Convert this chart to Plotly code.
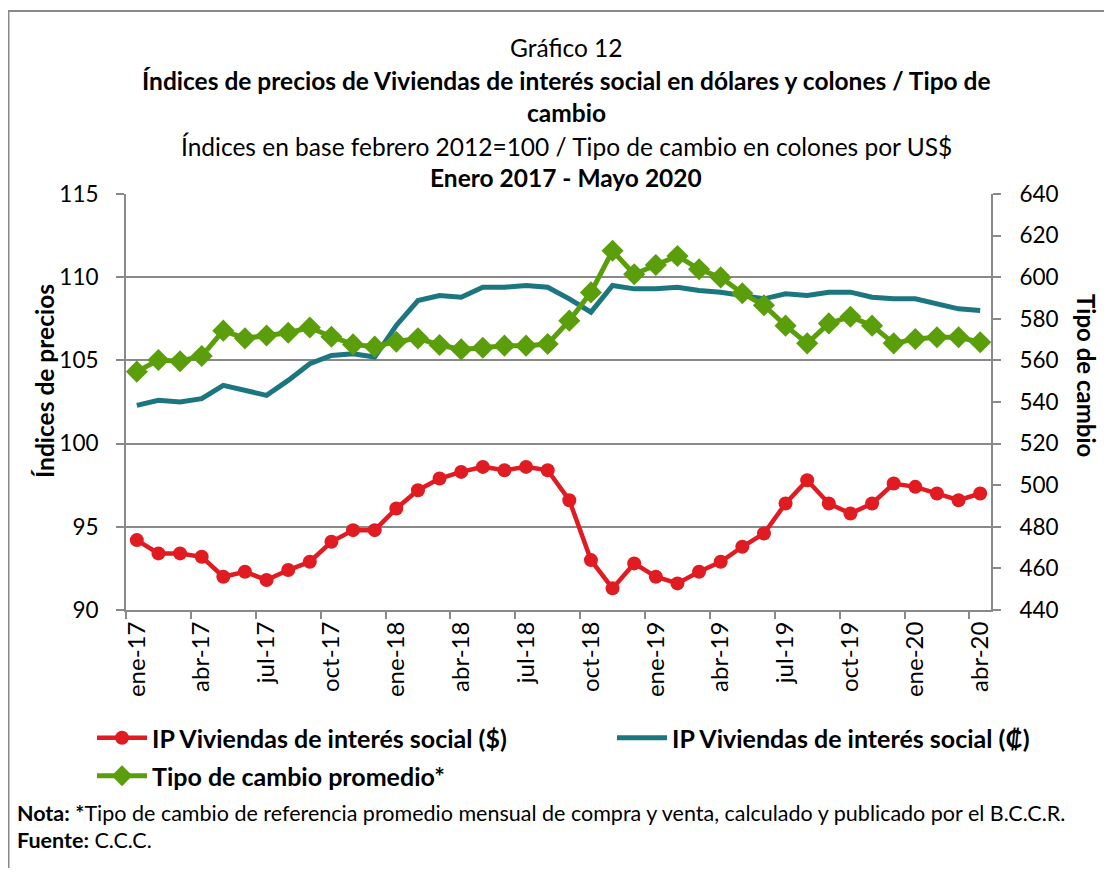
import plotly.graph_objects as go

# --- data -----------------------------------------------------------------
meses = ["ene", "feb", "mar", "abr", "may", "jun", "jul", "ago", "sep", "oct", "nov", "dic"]
anios = ["17", "18", "19", "20"]
periodos = [f"{m}-{a}" for a in anios for m in meses][:40]  # ene-17 .. abr-20

ip_dolares = [94.2, 93.4, 93.4, 93.2, 92.0, 92.3, 91.8, 92.4, 92.9, 94.1,
              94.8, 94.8, 96.1, 97.2, 97.9, 98.3, 98.6, 98.4, 98.6, 98.4,
              96.6, 93.0, 91.3, 92.8, 92.0, 91.6, 92.3, 92.9, 93.8, 94.6,
              96.4, 97.8, 96.4, 95.8, 96.4, 97.6, 97.4, 97.0, 96.6, 97.0]

ip_colones = [102.3, 102.6, 102.5, 102.7, 103.5, 103.2, 102.9, 103.8, 104.8, 105.3,
              105.4, 105.2, 107.1, 108.6, 108.9, 108.8, 109.4, 109.4, 109.5, 109.4,
              108.7, 107.9, 109.5, 109.3, 109.3, 109.4, 109.2, 109.1, 108.9, 108.7,
              109.0, 108.9, 109.1, 109.1, 108.8, 108.7, 108.7, 108.4, 108.1, 108.0]

tipo_cambio = [554.6, 560.2, 559.6, 562.1, 574.3, 570.6, 572.0, 573.3, 575.8, 571.4,
               567.7, 566.6, 569.0, 570.6, 567.4, 565.3, 566.1, 567.1, 567.1, 567.9,
               579.1, 592.7, 612.7, 601.4, 605.9, 610.2, 603.8, 599.9, 592.3, 586.5,
               576.7, 568.2, 577.8, 581.0, 576.7, 568.2, 570.3, 571.1, 571.1, 568.7]

ROJO = "#E11B22"
TEAL = "#1C767F"
VERDE = "#5B9E0C"
GRIS = "#898989"
FONT = "Lato"

# the page puts the figure 8px in from the top-left corner
OFF = 8
W, H = 1096, 860
L, R, T, B = 126 - OFF, 991 - OFF, 194 - OFF, 610 - OFF  # plot area in figure pixels


def px_x(x):
    # reference-image pixel -> paper coordinate
    return (x - OFF - L) / (R - L)


def px_y(y):
    return (B - (y - OFF)) / (B - T)


fig = go.Figure()

fig.add_trace(go.Scatter(
    x=periodos, y=ip_dolares, name="IP Viviendas de interés social ($)",
    mode="lines+markers", line=dict(color=ROJO, width=4.5),
    marker=dict(symbol="circle", size=14, color=ROJO), legend="legend",
))
fig.add_trace(go.Scatter(
    x=periodos, y=ip_colones, name="IP Viviendas de interés social (₡)",
    mode="lines", line=dict(color=TEAL, width=5), legend="legend2",
))
fig.add_trace(go.Scatter(
    x=periodos, y=tipo_cambio, name="Tipo de cambio promedio*", yaxis="y2",
    mode="lines+markers", line=dict(color=VERDE, width=5),
    marker=dict(symbol="diamond", size=17, color=VERDE), legend="legend3",
))

xtick_font = dict(family=FONT, size=24, color="black")
ytick_font = dict(family=FONT, size=22.5, color="black")
legend_font = dict(family=FONT, size=25, color="black", weight="bold")

fig.update_layout(
    width=W, height=H,
    margin=dict(l=L, r=W - R, t=T, b=H - B),
    paper_bgcolor="white", plot_bgcolor="white",
    font=dict(family=FONT, color="black"),
    showlegend=True,
    xaxis=dict(
        type="category", range=[-0.5, 39.5], tickmode="linear", tick0=0, dtick=3,
        tickson="boundaries", ticks="outside", ticklen=7, tickcolor=GRIS, tickwidth=2,
        tickangle=-90, tickfont=xtick_font, showgrid=False,
        showline=True, linecolor=GRIS, linewidth=2,
    ),
    yaxis=dict(
        range=[90, 115], dtick=5, ticks="outside", ticklen=8, tickcolor=GRIS, tickwidth=2,
        tickfont=ytick_font, ticklabelstandoff=13, showgrid=True, gridcolor=GRIS, gridwidth=2,
        showline=True, linecolor=GRIS, linewidth=2, zeroline=False,
    ),
    yaxis2=dict(
        range=[440, 640], dtick=20, overlaying="y", side="right",
        ticks="outside", ticklen=8, tickcolor=GRIS, tickwidth=2,
        tickfont=ytick_font, ticklabelstandoff=14, showgrid=False,
        showline=True, linecolor=GRIS, linewidth=2, zeroline=False,
    ),
    legend=dict(orientation="h", x=px_x(92), y=px_y(738), xanchor="left", yanchor="middle",
                itemwidth=50, font=legend_font, bgcolor="rgba(0,0,0,0)"),
    legend2=dict(orientation="h", x=px_x(612), y=px_y(738), xanchor="left", yanchor="middle",
                 itemwidth=50, font=legend_font, bgcolor="rgba(0,0,0,0)"),
    legend3=dict(orientation="h", x=px_x(92), y=px_y(776), xanchor="left", yanchor="middle",
                 itemwidth=50, font=legend_font, bgcolor="rgba(0,0,0,0)"),
)

# outer border of the chart
fig.add_shape(type="rect", xref="paper", yref="paper",
              x0=px_x(8.5), x1=px_x(1140), y0=px_y(920), y1=px_y(11),
              line=dict(color=GRIS, width=2), fillcolor="rgba(0,0,0,0)", layer="below")

cx = px_x(566)
titulos = [
    ("Gráfico 12", 47, "normal"),
    ("Índices de precios de Viviendas de interés social en dólares y colones / Tipo de", 80, "bold"),
    ("cambio", 112, "bold"),
    ("Índices en base febrero 2012=100 / Tipo de cambio en colones por US$", 146, "normal"),
    ("Enero 2017 - Mayo 2020", 178, "bold"),
]
for texto, y, peso in titulos:
    fig.add_annotation(text=texto, x=cx, y=px_y(y), xref="paper", yref="paper",
                       showarrow=False, xanchor="center", yanchor="middle",
                       font=dict(family=FONT, size=24.5, color="black", weight=peso))

fig.add_annotation(text="Índices de precios", x=px_x(44), y=px_y(381), xref="paper", yref="paper",
                   showarrow=False, textangle=-90, xanchor="center", yanchor="middle",
                   font=dict(family=FONT, size=24.5, color="black", weight="bold"))
fig.add_annotation(text="Tipo de cambio", x=px_x(1087), y=px_y(375), xref="paper", yref="paper",
                   showarrow=False, textangle=90, xanchor="center", yanchor="middle",
                   font=dict(family=FONT, size=24, color="black", weight="bold"))

fig.add_annotation(
    text="<b>Nota:</b> <b>*</b>Tipo de cambio de referencia promedio mensual de compra y venta, "
         "calculado y publicado por el B.C.C.R.",
    x=px_x(15), y=px_y(813), xref="paper", yref="paper", showarrow=False,
    xanchor="left", yanchor="middle", font=dict(family=FONT, size=21.5, color="black"))
fig.add_annotation(
    text="<b>Fuente:</b> C.C.C.",
    x=px_x(15), y=px_y(840), xref="paper", yref="paper", showarrow=False,
    xanchor="left", yanchor="middle", font=dict(family=FONT, size=21.5, color="black"))

fig.write_html("out.html")
